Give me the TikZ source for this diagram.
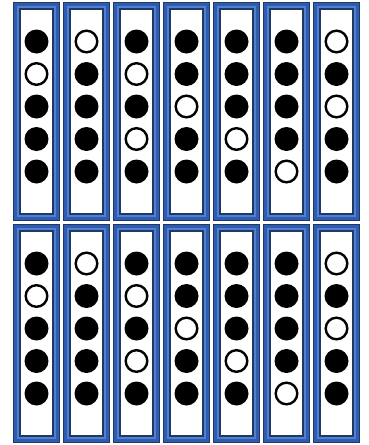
\documentclass[tikz,border=0pt]{standalone}
\begin{document}
\begin{tikzpicture}[x=1pt,y=-1pt,
  fullhole/.style={fill=black,draw=none},
  openhole/.style={fill=white,draw=black,line width=2.4pt}]
\definecolor{navy}{HTML}{1F3864}
\definecolor{midblue}{HTML}{2F5CB0}
\definecolor{lightblue}{HTML}{4F81D0}
\useasboundingbox (0,0) rectangle (369,445);
\fill[white] (0,0) rectangle (369,445);
\def\patA{{1,0,1,1,1}}
\foreach \j in {0,1}{
  \foreach \i/\pat in {0/{1,0,1,1,1},1/{0,1,1,1,1},2/{1,0,1,0,1},3/{1,1,0,1,1},4/{1,1,1,0,1},5/{1,1,1,1,0},6/{0,1,0,1,1}}{
    \pgfmathsetmacro{\xa}{13+50*\i}
    \pgfmathsetmacro{\ya}{2+222*\j}
    \pgfmathsetmacro{\xb}{\xa+47}
    \pgfmathsetmacro{\yb}{\ya+219}
    \fill[navy] (\xa,\ya) rectangle (\xb,\yb);
    \fill[midblue] (\xa+1.3,\ya+1.3) rectangle (\xb-1.3,\yb-1.3);
    \fill[lightblue] (\xa+3.8,\ya+3.8) rectangle (\xb-3.8,\yb-3.8);
    \fill[navy] (\xa+5.8,\ya+5.8) rectangle (\xb-5.8,\yb-5.8);
    \fill[white] (\xa+7.6,\ya+7.6) rectangle (\xb-7.6,\yb-7.6);
    \foreach \k [count=\n from 0] in \pat {
      \pgfmathsetmacro{\cx}{\xa+23.5}
      \pgfmathsetmacro{\cy}{\ya+39.5+32.5*\n}
      \ifnum\k=1
        \node[fullhole,circle,minimum size=24pt,inner sep=0pt] (h\i\j\n) at (\cx,\cy) {};
      \else
        \node[openhole,circle,minimum size=21.6pt,inner sep=0pt] (h\i\j\n) at (\cx,\cy) {};
      \fi
    }
  }
}
\end{tikzpicture}
\end{document}
